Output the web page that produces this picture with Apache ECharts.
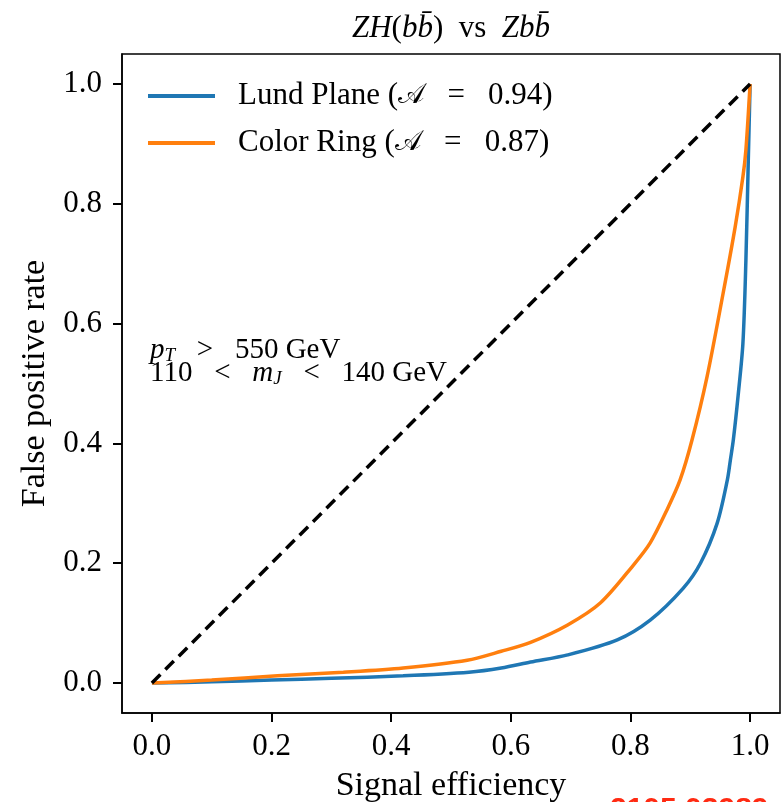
<!DOCTYPE html>
<html>
<head>
<meta charset="utf-8">
<script src="https://cdn.jsdelivr.net/npm/echarts@6/dist/echarts.min.js"></script>
<style>
  html, body { margin: 0; padding: 0; background: #fff; }
  #chart { width: 784px; height: 802px; }
</style>
</head>
<body>
<div id="chart"></div>
<script>
// ROC curves: [signal efficiency, false positive rate]
let lundPlane = [
    [0, 0], [0.1, 0.002], [0.2, 0.005], [0.3, 0.008], [0.42, 0.012], [0.53, 0.018],
    [0.584, 0.025], [0.633, 0.035], [0.695, 0.047], [0.778, 0.072], [0.833, 0.105],
    [0.888, 0.158], [0.917, 0.2], [0.945, 0.267], [0.962, 0.339], [0.967, 0.372],
    [0.972, 0.406], [0.98, 0.48], [0.988, 0.567], [0.993, 0.706], [0.997, 0.873], [1, 1]
];
let colorRing = [
    [0, 0], [0.1, 0.005], [0.21, 0.012], [0.32, 0.018], [0.42, 0.025], [0.527, 0.038],
    [0.584, 0.053], [0.633, 0.068], [0.695, 0.097], [0.75, 0.134], [0.805, 0.197],
    [0.833, 0.234], [0.861, 0.289], [0.883, 0.339], [0.903, 0.406], [0.928, 0.511],
    [0.955, 0.651], [0.975, 0.761], [0.988, 0.845], [0.993, 0.89], [1, 1]
];
let diagonal = [[0, 0], [1, 1]];

let seriesNames = ['Lund Plane', 'Color Ring'];
let aucValues = [0.94, 0.87];
let tickValues = [0, 0.2, 0.4, 0.6, 0.8, 1.0];

const serif = 'Liberation Serif';
const FS = 31;

let myChart = echarts.init(document.getElementById('chart'));

// axis with labels and name
function labelAxis(name, nameGap, labelMargin) {
    return {
        type: 'value',
        min: -0.05,
        max: 1.05,
        axisLine: { show: true, onZero: false, lineStyle: { color: '#000', width: 1.5 } },
        splitLine: { show: false },
        axisTick: { show: false },
        axisLabel: {
            customValues: tickValues.slice(),
            formatter: function (v) { return v.toFixed(1); },
            fontFamily: serif,
            fontSize: FS,
            color: '#000',
            margin: labelMargin
        },
        name: name,
        nameLocation: 'middle',
        nameGap: nameGap,
        nameTextStyle: { fontFamily: serif, fontSize: 34, color: '#000' }
    };
}

// second axis on the same edge, only for the tick marks
function tickAxis(position) {
    return {
        type: 'value',
        position: position,
        min: -0.05,
        max: 1.05,
        axisLine: { show: false, onZero: false },
        splitLine: { show: false },
        axisLabel: { show: false },
        axisTick: {
            show: true,
            length: 9,
            customValues: tickValues.slice(),
            lineStyle: { color: '#000', width: 2 }
        }
    };
}

let mathRich = {
    i: { fontFamily: serif, fontStyle: 'italic', fontSize: 29, fill: '#000', lineHeight: 30 },
    s: { fontFamily: serif, fontStyle: 'italic', fontSize: 19, fill: '#000', lineHeight: 14, verticalAlign: 'bottom' },
    n: { fontFamily: serif, fontSize: 29, fill: '#000', lineHeight: 30 }
};

let option = {
    animation: false,
    backgroundColor: '#fff',
    title: {
        text: '{i|ZH}{n|(}{i|bb\u0304}{n|)  vs  }{i|Zbb\u0304}',
        left: 446,
        top: 7,
        textAlign: 'center',
        textStyle: {
            fontWeight: 'normal',
            rich: {
                i: { fontFamily: serif, fontStyle: 'italic', fontWeight: 'normal', fontSize: FS, color: '#000', lineHeight: 34 },
                n: { fontFamily: serif, fontWeight: 'normal', fontSize: FS, color: '#000', lineHeight: 34 }
            }
        }
    },
    grid: {
        left: 122,
        right: 4,
        top: 54,
        bottom: 89,
        show: true,
        borderColor: '#000',
        borderWidth: 1.5,
        outerBoundsMode: 'none'
    },
    legend: {
        data: seriesNames,
        orient: 'vertical',
        left: 143,
        top: 74,
        itemWidth: 67,
        itemHeight: 4,
        itemGap: 13,
        icon: 'rect',
        formatter: function (name) {
            let i = seriesNames.indexOf(name);
            return name + ' ({a|\uD835\uDC9C}   =   ' + aucValues[i].toFixed(2) + ')';
        },
        textStyle: {
            fontFamily: serif,
            fontSize: FS,
            color: '#000',
            lineHeight: 34,
            padding: [0, 0, 0, 18],
            rich: {
                a: { fontFamily: 'DejaVu Sans', fontSize: 28, color: '#000', lineHeight: 34 }
            }
        }
    },
    xAxis: [
        Object.assign(labelAxis('Signal efficiency', 56, 18), { position: 'bottom' }),
        tickAxis('bottom')
    ],
    yAxis: [
        Object.assign(labelAxis('False positive rate', 70, 20), { position: 'left' }),
        tickAxis('left')
    ],
    graphic: [
        {
            type: 'text',
            left: 150,
            top: 336,
            style: { text: '{i|p}{s|T}{n|   >   550 GeV}', rich: mathRich }
        },
        {
            type: 'text',
            left: 150,
            top: 359,
            style: { text: '{n|110   <   }{i|m}{s|J}{n|   <   140 GeV}', rich: mathRich }
        },
        {
            type: 'text',
            left: 610,
            top: 795,
            style: {
                text: '2105.03989',
                font: 'bold 30px "Liberation Sans"',
                fill: '#ff2a12'
            }
        }
    ],
    series: [
        {
            name: seriesNames[0],
            type: 'line',
            data: lundPlane,
            showSymbol: false,
            smooth: 0.3,
            itemStyle: { color: '#1f77b4' },
            lineStyle: { color: '#1f77b4', width: 3.5 },
            z: 2
        },
        {
            name: seriesNames[1],
            type: 'line',
            data: colorRing,
            showSymbol: false,
            smooth: 0.3,
            itemStyle: { color: '#ff7f0e' },
            lineStyle: { color: '#ff7f0e', width: 3.5 },
            z: 3
        },
        {
            name: 'random',
            type: 'line',
            data: diagonal,
            showSymbol: false,
            lineStyle: { color: '#000', width: 3.5, type: [12, 7] },
            z: 4
        }
    ]
};

myChart.setOption(option);
</script>
</body>
</html>
